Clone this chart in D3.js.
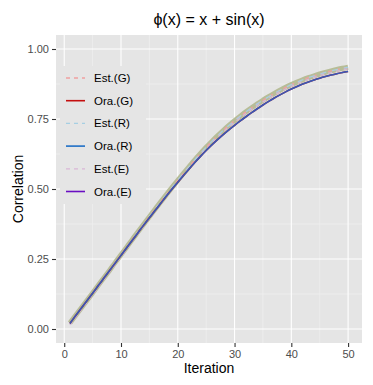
<!DOCTYPE html>
<html lang="en">

<head>
    <meta charset="UTF-8">
    <title>phi correlation</title>
    <style>
        body { margin: 0; background: #fff; }
        svg text { font-family: "Liberation Sans", Arial, sans-serif; }
    </style>
</head>

<body>
    <script src="https://cdn.jsdelivr.net/npm/d3@7"></script>
    <script>
        // values
        const iterations = d3.range(1, 51);
        const oracle = [0.020, 0.047, 0.074, 0.101, 0.128, 0.155, 0.182, 0.209, 0.236, 0.263,
            0.290, 0.317, 0.344, 0.371, 0.397, 0.423, 0.449, 0.475, 0.500, 0.524,
            0.548, 0.5715, 0.5945, 0.6165, 0.6375, 0.6575, 0.6765, 0.6945, 0.7115, 0.7275,
            0.743, 0.758, 0.7725, 0.7865, 0.800, 0.8128, 0.8249, 0.8363, 0.847, 0.857,
            0.8662, 0.8746, 0.8823, 0.8893, 0.8957, 0.9015, 0.9068, 0.9116, 0.9159, 0.9198];
        const estimate = [0.021, 0.048, 0.075, 0.102, 0.129, 0.156, 0.183, 0.210, 0.238, 0.265,
            0.292, 0.320, 0.347, 0.374, 0.401, 0.428, 0.454, 0.480, 0.506, 0.531,
            0.556, 0.580, 0.604, 0.627, 0.649, 0.670, 0.690, 0.709, 0.727, 0.744,
            0.760, 0.7755, 0.790, 0.804, 0.817, 0.8295, 0.8413, 0.8525, 0.863, 0.8728,
            0.8818, 0.890, 0.8975, 0.9044, 0.9107, 0.9165, 0.9218, 0.9266, 0.931, 0.935];
        const seriesNames = ['Est.(G)', 'Ora.(G)', 'Est.(R)', 'Ora.(R)', 'Est.(E)', 'Ora.(E)'];
        const seriesColors = ['#f0a0a0', '#c40f0f', '#a6cfe3', '#1f6fc6', '#d9b6d6', '#6a0fc2'];
        const xTicks = [0, 10, 20, 30, 40, 50];
        const yTicks = [0, 0.25, 0.5, 0.75, 1];

        const w = 373;
        const h = 385;
        const pLeft = 56, pRight = 362, pTop = 35, pBottom = 343;

        const svg = d3.select('body')
            .append('svg')
            .attr('width', w)
            .attr('height', h);

        const xScale = d3.scaleLinear().domain([-1.45, 52.45]).range([pLeft, pRight]);
        const yScale = d3.scaleLinear().domain([-0.05, 1.05]).range([pBottom, pTop]);

        // panel
        svg.append('rect')
            .attr('x', pLeft).attr('y', pTop)
            .attr('width', pRight - pLeft).attr('height', pBottom - pTop)
            .attr('fill', '#e5e5e5');

        const grid = svg.append('g');
        grid.selectAll('.minx')
            .data([5, 15, 25, 35, 45])
            .enter().append('line')
            .attr('x1', d => xScale(d)).attr('x2', d => xScale(d))
            .attr('y1', pTop).attr('y2', pBottom)
            .attr('stroke', '#f2f2f2').attr('stroke-width', 0.6);
        grid.selectAll('.miny')
            .data([0.125, 0.375, 0.625, 0.875])
            .enter().append('line')
            .attr('y1', d => yScale(d)).attr('y2', d => yScale(d))
            .attr('x1', pLeft).attr('x2', pRight)
            .attr('stroke', '#f2f2f2').attr('stroke-width', 0.6);
        grid.selectAll('.majx')
            .data(xTicks)
            .enter().append('line')
            .attr('x1', d => xScale(d)).attr('x2', d => xScale(d))
            .attr('y1', pTop).attr('y2', pBottom)
            .attr('stroke', '#fff').attr('stroke-width', 1.1);
        grid.selectAll('.majy')
            .data(yTicks)
            .enter().append('line')
            .attr('y1', d => yScale(d)).attr('y2', d => yScale(d))
            .attr('x1', pLeft).attr('x2', pRight)
            .attr('stroke', '#fff').attr('stroke-width', 1.1);

        // axes
        const xAxis = svg.append('g')
            .attr('transform', `translate(0,${pBottom})`)
            .call(d3.axisBottom(xScale).tickValues(xTicks).tickSize(4).tickPadding(3));
        const yAxis = svg.append('g')
            .attr('transform', `translate(${pLeft},0)`)
            .call(d3.axisLeft(yScale).tickValues(yTicks).tickFormat(d3.format('.2f')).tickSize(4).tickPadding(3));
        [xAxis, yAxis].forEach(a => {
            a.select('.domain').remove();
            a.selectAll('line').attr('stroke', '#333').attr('stroke-width', 1.1);
            a.selectAll('text').attr('fill', '#4d4d4d').attr('font-size', '11px')
                .style('font-family', '"Liberation Sans", Arial, sans-serif');
        });

        const line = d3.line()
            .x((d, i) => xScale(iterations[i]))
            .y(d => yScale(d))
            .curve(d3.curveMonotoneX);

        // estimated curves, overlapping into a wide band
        svg.append('path')
            .attr('d', line(estimate))
            .attr('fill', 'none')
            .attr('stroke', '#b7bd97')
            .attr('stroke-width', 5);
        [0, 4, 2].forEach(k => {
            svg.append('path')
                .attr('d', line(estimate.map(v => v - (k === 4 ? 0.006 : 0))))
                .attr('fill', 'none')
                .attr('stroke', seriesColors[k])
                .attr('stroke-width', 1.3)
                .attr('stroke-dasharray', k === 2 ? '6,6' : '4,4');
        });
        // oracle curves, stacked on top of each other
        const oraOpacity = { 1: 1, 3: 0.9, 5: 0.15 };
        [1, 3, 5].forEach(k => {
            svg.append('path')
                .attr('d', line(oracle))
                .attr('fill', 'none')
                .attr('stroke', seriesColors[k])
                .attr('stroke-width', 1.6)
                .attr('stroke-opacity', oraOpacity[k]);
        });

        // legend
        const legend = svg.append('g');
        legend.append('rect')
            .attr('x', 60).attr('y', 66)
            .attr('width', 86).attr('height', 138)
            .attr('fill', '#e5e5e5');
        const rows = legend.selectAll('g.row')
            .data(seriesNames)
            .enter().append('g')
            .attr('transform', (d, i) => `translate(0,${78 + i * 22.7})`);
        rows.append('line')
            .attr('x1', 66).attr('x2', 85)
            .attr('stroke', (d, i) => seriesColors[i])
            .attr('stroke-width', (d, i) => i % 2 ? 1.6 : 1.3)
            .attr('stroke-dasharray', (d, i) => i % 2 ? null : '4,4');
        rows.append('text')
            .attr('x', 94).attr('y', 4)
            .attr('font-size', '11.5px')
            .attr('fill', '#000')
            .text(d => d);

        // titles
        svg.append('text')
            .attr('x', (pLeft + pRight) / 2).attr('y', 25)
            .attr('text-anchor', 'middle')
            .attr('font-size', '16px')
            .text('ϕ(x) = x + sin(x)');
        svg.append('text')
            .attr('x', (pLeft + pRight) / 2).attr('y', 373)
            .attr('text-anchor', 'middle')
            .attr('font-size', '14px')
            .text('Iteration');
        svg.append('text')
            .attr('transform', `translate(23,${(pTop + pBottom) / 2}) rotate(-90)`)
            .attr('text-anchor', 'middle')
            .attr('font-size', '14px')
            .text('Correlation');
    </script>
</body>

</html>
